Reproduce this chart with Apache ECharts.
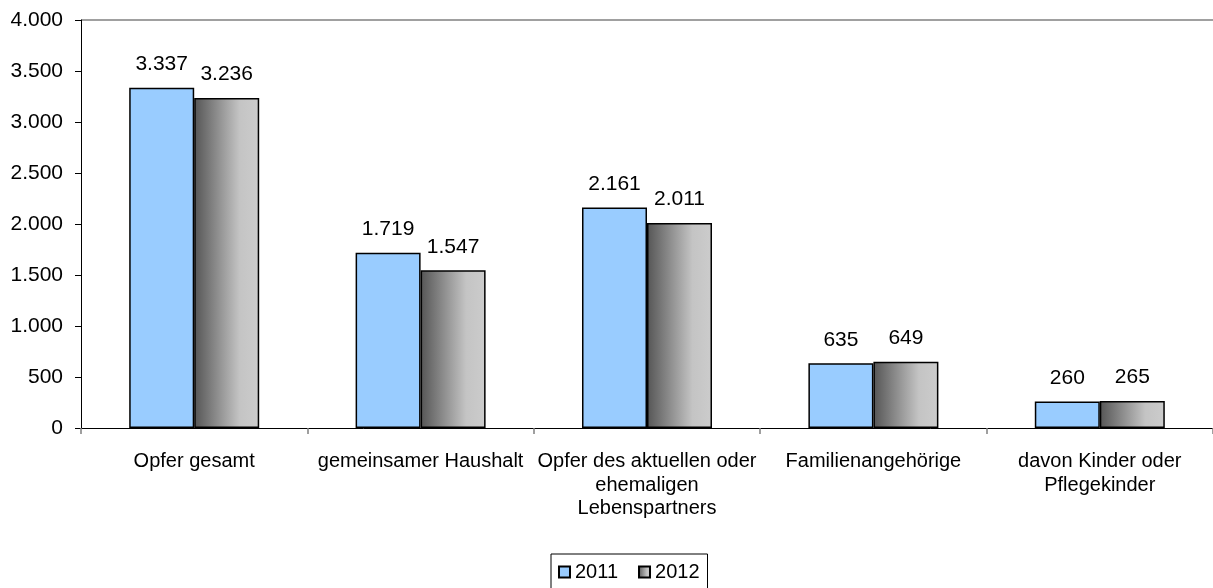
<!DOCTYPE html>
<html>
<head>
<meta charset="utf-8">
<script src="https://cdn.jsdelivr.net/npm/echarts@6/dist/echarts.min.js"></script>
<style>
html,body{margin:0;padding:0;background:#fff;}
#c{width:1213px;height:588px;}
</style>
</head>
<body>
<div id="c"></div>
<script>
const categories = ["Opfer gesamt", "gemeinsamer Haushalt", "Opfer des aktuellen oder\nehemaligen\nLebenspartners", "Familienangehörige", "davon Kinder oder\nPflegekinder"];
const seriesNames = ["2011", "2012"];
const values2011 = [3337, 1719, 2161, 635, 260];
const values2012 = [3236, 1547, 2011, 649, 265];
const yTicks = [0, 500, 1000, 1500, 2000, 2500, 3000, 3500, 4000];

function fmt(v){ return String(v).replace(/\B(?=(\d{3})+(?!\d))/g, '.'); }

const font = 'Liberation Sans, Arial, sans-serif';
const chart = echarts.init(document.getElementById('c'));
const grad = new echarts.graphic.LinearGradient(0,0,1,0,[
  {offset:0,color:'#555555'},{offset:0.7,color:'#c4c4c4'},{offset:1,color:'#cccccc'}]);
const lineColors = yTicks.map((t,i)=> i===yTicks.length-1 ? '#808080' : 'rgba(0,0,0,0)');
chart.setOption({
  animation:false,
  textStyle:{fontFamily:font},
  grid:{left:81,right:0,top:20,bottom:160},
  legend:{
    data:seriesNames, left:551, top:554,
    borderColor:'#000', borderWidth:1, padding:[8,8,10,7],
    itemWidth:11, itemHeight:11, itemGap:20,
    icon:'rect',
    textStyle:{fontSize:20,color:'#000',fontFamily:font}
  },
  xAxis:{
    type:'category', data:categories,
    axisLine:{lineStyle:{color:'#000',width:1}},
    axisTick:{show:true,length:6,lineStyle:{color:'#808080',width:1.5}},
    axisLabel:{color:'#000',fontSize:20,margin:22,lineHeight:23.5,interval:0,fontFamily:font}
  },
  yAxis:{
    type:'value', min:0, max:4000, interval:500,
    axisLine:{show:true,lineStyle:{color:'#000',width:1}},
    axisTick:{show:true,length:6,lineStyle:{color:'#000'}},
    axisLabel:{color:'#000',fontSize:21,margin:18,formatter:fmt,fontFamily:font},
    splitLine:{show:true,lineStyle:{color:lineColors,width:1.5}}
  },
  series:[
    {name:seriesNames[0],type:'bar',data:values2011,barWidth:65,barGap:'0%',
     itemStyle:{color:'#99ccff',borderColor:'#000',borderWidth:1.5},
     label:{show:true,position:'top',distance:13,fontSize:21,color:'#000',fontFamily:font,formatter:p=>fmt(p.value)}},
    {name:seriesNames[1],type:'bar',data:values2012,barWidth:65,barGap:'0%',
     itemStyle:{color:grad,borderColor:'#000',borderWidth:1.5},
     label:{show:true,position:'top',distance:13,fontSize:21,color:'#000',fontFamily:font,formatter:p=>fmt(p.value)}}
  ]
});
</script>
</body>
</html>
